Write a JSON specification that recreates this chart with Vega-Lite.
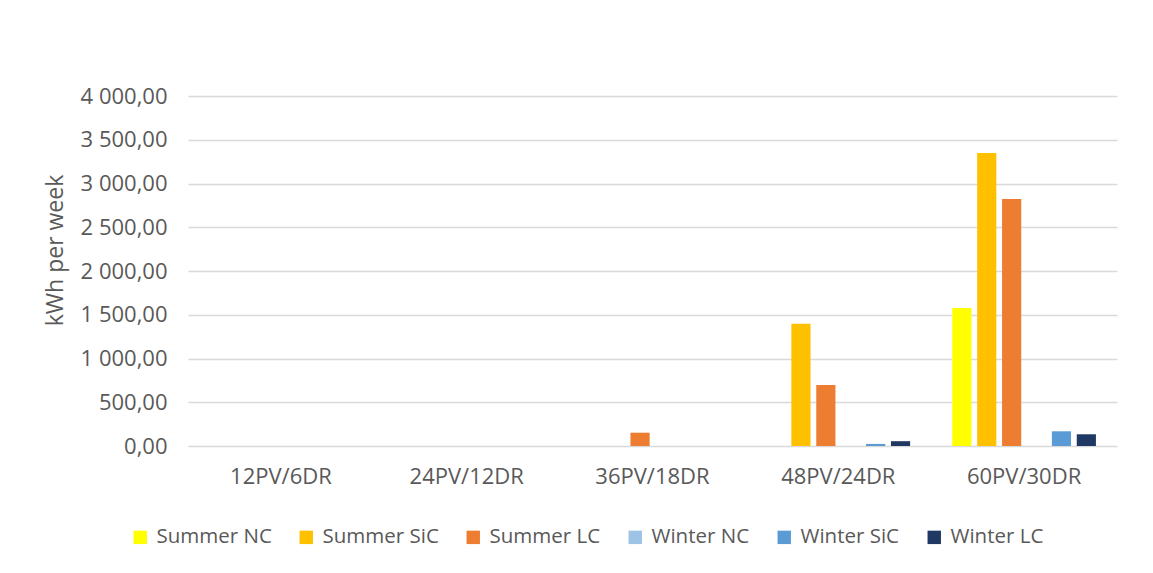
{
  "$schema": "https://vega.github.io/schema/vega-lite/v6.json",
  "autosize": "none",
  "width": 929,
  "height": 350,
  "padding": {"left": 188, "top": 96, "right": 36, "bottom": 127},
  "background": "white",
  "config": {
    "font": "Open Sans",
    "view": {"stroke": null},
    "axis": {"labelColor": "#595959", "titleColor": "#595959", "labelFont": "Open Sans", "titleFont": "Open Sans"},
    "legend": {"labelColor": "#595959", "labelFont": "Open Sans"}
  },
  "data": {
    "values": [
      {"config": "12PV/6DR", "series": "Summer NC", "value": 0},
      {"config": "12PV/6DR", "series": "Summer SiC", "value": 0},
      {"config": "12PV/6DR", "series": "Summer LC", "value": 0},
      {"config": "12PV/6DR", "series": "Winter NC", "value": 0},
      {"config": "12PV/6DR", "series": "Winter SiC", "value": 0},
      {"config": "12PV/6DR", "series": "Winter LC", "value": 0},
      {"config": "24PV/12DR", "series": "Summer NC", "value": 0},
      {"config": "24PV/12DR", "series": "Summer SiC", "value": 0},
      {"config": "24PV/12DR", "series": "Summer LC", "value": 0},
      {"config": "24PV/12DR", "series": "Winter NC", "value": 0},
      {"config": "24PV/12DR", "series": "Winter SiC", "value": 0},
      {"config": "24PV/12DR", "series": "Winter LC", "value": 0},
      {"config": "36PV/18DR", "series": "Summer NC", "value": 0},
      {"config": "36PV/18DR", "series": "Summer SiC", "value": 0},
      {"config": "36PV/18DR", "series": "Summer LC", "value": 152},
      {"config": "36PV/18DR", "series": "Winter NC", "value": 0},
      {"config": "36PV/18DR", "series": "Winter SiC", "value": 0},
      {"config": "36PV/18DR", "series": "Winter LC", "value": 0},
      {"config": "48PV/24DR", "series": "Summer NC", "value": 0},
      {"config": "48PV/24DR", "series": "Summer SiC", "value": 1396},
      {"config": "48PV/24DR", "series": "Summer LC", "value": 698},
      {"config": "48PV/24DR", "series": "Winter NC", "value": 0},
      {"config": "48PV/24DR", "series": "Winter SiC", "value": 24},
      {"config": "48PV/24DR", "series": "Winter LC", "value": 55},
      {"config": "60PV/30DR", "series": "Summer NC", "value": 1578},
      {"config": "60PV/30DR", "series": "Summer SiC", "value": 3348},
      {"config": "60PV/30DR", "series": "Summer LC", "value": 2824},
      {"config": "60PV/30DR", "series": "Winter NC", "value": 0},
      {"config": "60PV/30DR", "series": "Winter SiC", "value": 168},
      {"config": "60PV/30DR", "series": "Winter LC", "value": 134}
    ]
  },
  "mark": {"type": "bar"},
  "encoding": {
    "x": {
      "field": "config",
      "type": "nominal",
      "sort": null,
      "scale": {"paddingInner": 0.2, "paddingOuter": 0.1},
      "axis": {
        "title": null,
        "labelAngle": 0,
        "labelFontSize": 22,
        "labelPadding": 20,
        "ticks": false,
        "domain": false
      }
    },
    "xOffset": {
      "field": "series",
      "type": "nominal",
      "sort": ["Summer NC", "Summer SiC", "Summer LC", "Winter NC", "Winter SiC", "Winter LC"],
      "scale": {"paddingInner": 0.23, "paddingOuter": 0.1}
    },
    "y": {
      "field": "value",
      "type": "quantitative",
      "scale": {"domain": [0, 4000], "nice": false},
      "axis": {
        "title": "kWh per week",
        "titleFontSize": 23,
        "titleFontWeight": "normal",
        "titlePadding": 13,
        "titleY": 154,
        "values": [0, 500, 1000, 1500, 2000, 2500, 3000, 3500, 4000],
        "labelExpr": "replace(replace(format(datum.value, ',.2f'), regexp(',', 'g'), ' '), '.', ',')",
        "labelFontSize": 22,
        "labelPadding": 21,
        "ticks": false,
        "domain": false,
        "grid": true,
        "gridColor": "#d9d9d9",
        "gridWidth": 1.5
      }
    },
    "color": {
      "field": "series",
      "type": "nominal",
      "sort": ["Summer NC", "Summer SiC", "Summer LC", "Winter NC", "Winter SiC", "Winter LC"],
      "scale": {
        "domain": ["Summer NC", "Summer SiC", "Summer LC", "Winter NC", "Winter SiC", "Winter LC"],
        "range": ["#FFFF00", "#FFC000", "#ED7D31", "#9DC3E6", "#5B9BD5", "#203864"]
      },
      "legend": {
        "title": null,
        "orient": "none",
        "legendX": -58,
        "legendY": 431,
        "direction": "horizontal",
        "symbolType": "square",
        "symbolSize": 180,
        "symbolStrokeWidth": 0,
        "labelFontSize": 20.5,
        "labelOffset": 6,
        "columnPadding": 24
      }
    }
  }
}
